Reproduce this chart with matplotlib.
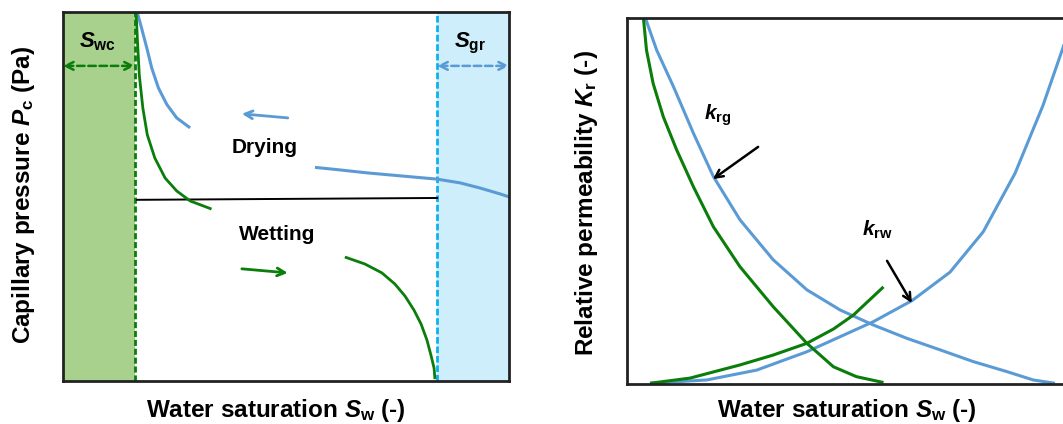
import matplotlib
matplotlib.use("Agg")
import matplotlib.pyplot as plt

plt.rcParams["font.family"] = ["Liberation Sans", "DejaVu Sans"]
plt.rcParams["font.weight"] = "bold"
plt.rcParams["mathtext.fontset"] = "custom"
plt.rcParams["mathtext.rm"] = "Liberation Sans:bold"
plt.rcParams["mathtext.it"] = "Liberation Sans:italic:bold"
plt.rcParams["mathtext.bf"] = "Liberation Sans:bold"

# ---------------------------------------------------------------------------
# Data (normalised saturation / pressure)
# ---------------------------------------------------------------------------
swc = 0.161
sgr = 0.839

# capillary pressure, drying (blue) and wetting (green)
dry_upper_x = [0.167, 0.176, 0.188, 0.199, 0.214, 0.233, 0.255, 0.285]
dry_upper_y = [0.997, 0.957, 0.902, 0.848, 0.794, 0.749, 0.713, 0.686]
dry_lower_x = [0.565, 0.621, 0.682, 0.756, 0.839, 0.890, 0.935, 0.980, 1.000]
dry_lower_y = [0.579, 0.572, 0.564, 0.556, 0.547, 0.537, 0.523, 0.507, 0.499]
wet_upper_x = [0.164, 0.167, 0.171, 0.179, 0.189, 0.206, 0.229, 0.255, 0.285, 0.333]
wet_upper_y = [0.997, 0.921, 0.830, 0.740, 0.667, 0.604, 0.550, 0.515, 0.488, 0.466]
wet_lower_x = [0.632, 0.677, 0.715, 0.744, 0.767, 0.787, 0.803, 0.816, 0.825, 0.832, 0.834]
wet_lower_y = [0.336, 0.317, 0.293, 0.263, 0.230, 0.192, 0.154, 0.111, 0.070, 0.035, 0.005]
mid_line_x = [0.166, 0.839]
mid_line_y = [0.491, 0.496]

# relative permeability
krg_blue_x = [0.041, 0.067, 0.105, 0.150, 0.195, 0.255, 0.330, 0.406, 0.481,
              0.556, 0.631, 0.707, 0.782, 0.857, 0.917, 0.966]
krg_blue_y = [1.000, 0.911, 0.811, 0.684, 0.566, 0.448, 0.339, 0.257, 0.202,
              0.161, 0.125, 0.093, 0.061, 0.034, 0.011, 0.002]
krg_green_x = [0.037, 0.044, 0.059, 0.082, 0.112, 0.150, 0.195, 0.255, 0.330,
               0.406, 0.466, 0.518, 0.579]
krg_green_y = [1.000, 0.911, 0.820, 0.729, 0.639, 0.538, 0.429, 0.320, 0.211,
               0.111, 0.047, 0.020, 0.004]
krw_blue_x = [0.052, 0.180, 0.293, 0.406, 0.481, 0.556, 0.644, 0.729, 0.804,
              0.876, 0.939, 0.984, 1.000]
krw_blue_y = [0.002, 0.011, 0.038, 0.088, 0.129, 0.170, 0.228, 0.305, 0.415,
              0.575, 0.760, 0.917, 0.980]
krw_green_x = [0.052, 0.142, 0.255, 0.330, 0.406, 0.466, 0.511, 0.541, 0.579]
krw_green_y = [0.002, 0.016, 0.052, 0.079, 0.111, 0.150, 0.188, 0.222, 0.265]

GREEN = "#0a7d0a"
BLUE = "#5b9bd5"
GREEN_FILL = "#a9d18e"
BLUE_FILL = "#cdeefa"
CYAN = "#10b0ef"

W, H = 1063, 424
fig = plt.figure(figsize=(W / 100, H / 100), dpi=100)


def px_axes(x0, y_top, w, h):
    return fig.add_axes([x0 / W, (H - y_top - h) / H, w / W, h / H])


def style_axes(ax):
    ax.set_xlim(0, 1)
    ax.set_ylim(0, 1)
    ax.set_xticks([])
    ax.set_yticks([])
    for sp in ax.spines.values():
        sp.set_linewidth(2.0)
        sp.set_color("#222222")


def arrow(ax, tail, head, color, style="->", ls="-", lw=1.8, ms=14):
    ax.annotate("", xy=head, xytext=tail,
                arrowprops=dict(arrowstyle=style, color=color, lw=lw,
                                linestyle=ls, mutation_scale=ms,
                                shrinkA=0, shrinkB=0))


def curve(ax, xs, ys, color, lw=2.2):
    ax.plot(xs, ys, color=color, lw=lw, solid_capstyle="butt",
            solid_joinstyle="round")


# ---------------------------------------------------------------------------
# Left: capillary pressure
# ---------------------------------------------------------------------------
ax1 = px_axes(63, 12, 446, 369)
style_axes(ax1)
ax1.axvspan(0, swc, color=GREEN_FILL, lw=0)
ax1.axvspan(sgr, 1, color=BLUE_FILL, lw=0)
ax1.axvline(swc, color=GREEN, lw=2.0, ls=(0, (2.2, 1.0)))
ax1.axvline(sgr, color=CYAN, lw=2.0, ls=(0, (2.4, 1.0)))

ax1.plot(mid_line_x, mid_line_y, color="black", lw=1.4)
curve(ax1, dry_upper_x, dry_upper_y, BLUE)
curve(ax1, dry_lower_x, dry_lower_y, BLUE)
curve(ax1, wet_upper_x, wet_upper_y, GREEN, lw=2.0)
curve(ax1, wet_lower_x, wet_lower_y, GREEN, lw=2.0)

arrow(ax1, (0.504, 0.713), (0.401, 0.724), BLUE, lw=2.0)
arrow(ax1, (0.401, 0.304), (0.504, 0.293), GREEN, lw=2.0)
arrow(ax1, (0.0, 0.854), (swc, 0.854), GREEN, style="<->", ls=(0, (3, 1.5)), lw=1.8)
arrow(ax1, (sgr, 0.854), (1.0, 0.854), BLUE, style="<->", ls=(0, (3, 1.5)), lw=1.8)

ax1.text(0.451, 0.634, "Drying", fontsize=15, fontweight="bold",
         ha="center", va="center")
ax1.text(0.480, 0.398, "Wetting", fontsize=15, fontweight="bold",
         ha="center", va="center")
ax1.text(0.078, 0.919, r"$\mathit{S}_{\mathrm{wc}}$", fontsize=16,
         ha="center", va="center")
ax1.text(0.913, 0.916, r"$\mathit{S}_{\mathrm{gr}}$", fontsize=16,
         ha="center", va="center")

fig.text(276 / W, 1 - 410 / H, r"Water saturation $\mathit{S}_{\mathrm{w}}$ (-)",
         fontsize=17.5, fontweight="bold", ha="center", va="center")
fig.text(24 / W, 1 - 195 / H, r"Capillary pressure $\mathit{P}_{\mathrm{c}}$ (Pa)",
         fontsize=17.5, fontweight="bold", ha="center", va="center", rotation=90)

# ---------------------------------------------------------------------------
# Right: relative permeability
# ---------------------------------------------------------------------------
ax2 = px_axes(627, 17.5, 443, 366.5)
style_axes(ax2)
curve(ax2, krg_blue_x, krg_blue_y, BLUE)
curve(ax2, krw_blue_x, krw_blue_y, BLUE)
curve(ax2, krg_green_x, krg_green_y, GREEN)
curve(ax2, krw_green_x, krw_green_y, GREEN)

arrow(ax2, (0.296, 0.647), (0.194, 0.559), "black", lw=1.8)
arrow(ax2, (0.587, 0.336), (0.643, 0.221), "black", lw=1.8)
ax2.text(0.205, 0.734, r"$\mathit{k}_{\mathrm{rg}}$", fontsize=15,
         ha="center", va="center")
ax2.text(0.564, 0.420, r"$\mathit{k}_{\mathrm{rw}}$", fontsize=15,
         ha="center", va="center")

fig.text(847 / W, 1 - 411 / H, r"Water saturation $\mathit{S}_{\mathrm{w}}$ (-)",
         fontsize=17.5, fontweight="bold", ha="center", va="center")
fig.text(587 / W, 1 - 203 / H, r"Relative permeability $\mathit{K}_{\mathrm{r}}$ (-)",
         fontsize=17.5, fontweight="bold", ha="center", va="center", rotation=90)

fig.savefig("out.png", dpi=100)
